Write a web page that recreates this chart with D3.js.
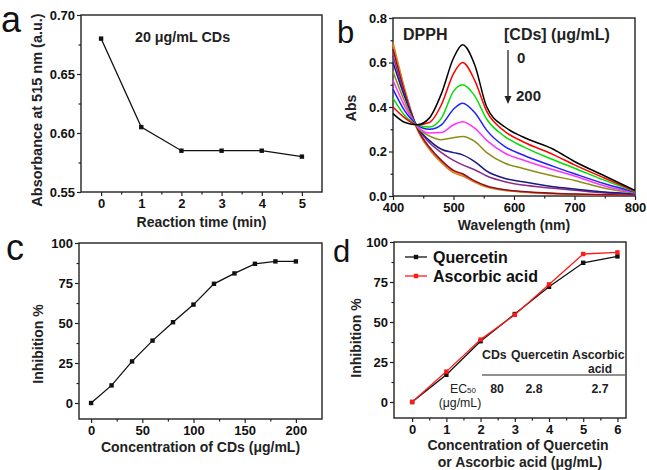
<!DOCTYPE html>
<html>
<head>
<meta charset="utf-8">
<script src="https://cdn.jsdelivr.net/npm/d3@7"></script>
<style>
  body { margin: 0; background: #fff; }
  svg text { font-family: "Liberation Sans", Arial, sans-serif; }
</style>
</head>
<body>
<div id="wrapper"></div>
<script>
// panel a: absorbance vs reaction time
const timeMin = [0, 1, 2, 3, 4, 5];
const abs515 = [0.68, 0.605, 0.585, 0.585, 0.585, 0.58];

// panel b: DPPH spectra, one row per CD concentration (0 -> 200 ug/mL)
const wavelengths = [400, 420, 440, 460, 480, 500, 515, 535, 555, 585, 615, 665, 700, 750, 800];
const spectra = [
  [0.37, 0.33, 0.32, 0.35, 0.46, 0.62, 0.68, 0.59, 0.40, 0.31, 0.265, 0.21, 0.155, 0.09, 0.025],
  [0.40, 0.35, 0.32, 0.33, 0.41, 0.55, 0.60, 0.52, 0.38, 0.29, 0.244, 0.186, 0.14, 0.08, 0.022],
  [0.44, 0.36, 0.32, 0.31, 0.35, 0.47, 0.50, 0.45, 0.345, 0.267, 0.222, 0.163, 0.125, 0.07, 0.02],
  [0.48, 0.38, 0.32, 0.30, 0.32, 0.39, 0.417, 0.375, 0.295, 0.222, 0.184, 0.133, 0.10, 0.055, 0.018],
  [0.52, 0.40, 0.315, 0.283, 0.285, 0.32, 0.334, 0.305, 0.25, 0.192, 0.162, 0.118, 0.09, 0.045, 0.016],
  [0.56, 0.42, 0.31, 0.27, 0.253, 0.262, 0.267, 0.245, 0.195, 0.147, 0.124, 0.09, 0.07, 0.035, 0.013],
  [0.60, 0.44, 0.31, 0.25, 0.21, 0.195, 0.185, 0.155, 0.112, 0.079, 0.064, 0.042, 0.032, 0.018, 0.01],
  [0.63, 0.45, 0.31, 0.24, 0.195, 0.16, 0.14, 0.118, 0.09, 0.064, 0.049, 0.035, 0.026, 0.014, 0.008],
  [0.66, 0.46, 0.305, 0.22, 0.16, 0.115, 0.10, 0.068, 0.045, 0.028, 0.02, 0.012, 0.009, 0.006, 0.005],
  [0.68, 0.47, 0.30, 0.215, 0.155, 0.11, 0.095, 0.065, 0.042, 0.026, 0.018, 0.011, 0.008, 0.005, 0.004],
  [0.69, 0.475, 0.30, 0.21, 0.15, 0.105, 0.09, 0.062, 0.04, 0.025, 0.017, 0.01, 0.007, 0.005, 0.004]
];
const spectraColors = ["#000000", "#ff0000", "#00e000", "#1f1fff", "#ff33ff", "#8c8c1a",
  "#1a1a80", "#8a2a8a", "#8b0f2a", "#ff8000", "#c08040"];

// panel c: inhibition vs CD concentration
const cdConc = [0, 20, 40, 60, 80, 100, 120, 140, 160, 180, 200];
const cdInhib = [0, 11, 26, 39, 50.5, 61.5, 74.5, 81, 87, 88.5, 88.5];

// panel d: reference antioxidants
const refConc = [0, 1, 2, 3, 4, 5, 6];
const quercetin = [0, 17, 38, 55, 72, 87, 91];
const ascorbic = [0, 19, 39, 54.5, 73.5, 92.5, 93.5];
const ec50Names = ["CDs", "Quercetin", "Ascorbic"];
const ec50Values = ["80", "2.8", "2.7"];

const svg = d3.select("#wrapper").append("svg")
  .attr("width", 647).attr("height", 470);

function panel(p) {
  const x = d3.scaleLinear().domain(p.xDomain).range([p.left, p.right]);
  const y = d3.scaleLinear().domain(p.yDomain).range([p.bottom, p.top]);
  const g = svg.append("g");

  // minor ticks
  g.append("g").attr("transform", `translate(0,${p.bottom})`)
    .call(d3.axisBottom(x).tickValues(p.xMinor).tickSize(2.5).tickFormat(""))
    .call(a => a.select(".domain").remove());
  g.append("g").attr("transform", `translate(${p.left},0)`)
    .call(d3.axisLeft(y).tickValues(p.yMinor).tickSize(2.5).tickFormat(""))
    .call(a => a.select(".domain").remove());

  // major ticks
  g.append("g").attr("transform", `translate(0,${p.bottom})`)
    .call(d3.axisBottom(x).tickValues(p.xTicks).tickSize(4).tickPadding(3).tickFormat(p.xFmt))
    .call(a => a.select(".domain").remove());
  g.append("g").attr("transform", `translate(${p.left},0)`)
    .call(d3.axisLeft(y).tickValues(p.yTicks).tickSize(4).tickPadding(2).tickFormat(p.yFmt))
    .call(a => a.select(".domain").remove());

  g.selectAll(".tick text")
    .style("font-size", "13px").style("font-weight", "bold").attr("fill", "#111");
  g.selectAll(".tick line").attr("stroke", "#222").attr("stroke-width", 1.2);

  g.append("rect")
    .attr("x", p.left).attr("y", p.top)
    .attr("width", p.right - p.left).attr("height", p.bottom - p.top)
    .attr("fill", "none").attr("stroke", "#222").attr("stroke-width", 1.4);

  g.append("text")
    .attr("x", (p.left + p.right) / 2 + (p.xlabDx || 0)).attr("y", p.xlabY)
    .attr("text-anchor", "middle")
    .style("font-size", "14px").style("font-weight", "bold").attr("fill", "#222")
    .text(p.xlab);

  g.append("text")
    .attr("transform", `translate(${p.ylabX},${p.ylabY}) rotate(-90)`)
    .attr("text-anchor", "middle")
    .style("font-size", p.ylabSize || "14px").style("font-weight", "bold").attr("fill", "#222")
    .text(p.ylab);

  g.append("text")
    .attr("x", p.letterX).attr("y", p.letterY)
    .style("font-size", p.letterSize).attr("fill", "#111")
    .text(p.letter);

  return { g, x, y };
}

function markLine(g, x, y, xs, ys, color) {
  const pts = xs.map((v, i) => [v, ys[i]]);
  g.append("path")
    .attr("d", d3.line().x(d => x(d[0])).y(d => y(d[1]))(pts))
    .attr("fill", "none").attr("stroke", color).attr("stroke-width", 1.3);
  g.selectAll(null).data(pts).join("rect")
    .attr("x", d => x(d[0]) - 2.2).attr("y", d => y(d[1]) - 2.2)
    .attr("width", 4.4).attr("height", 4.4).attr("fill", color);
}

// ---------- a ----------
const pa = panel({
  left: 81, right: 322, top: 15, bottom: 192,
  xDomain: [-0.5, 5.5], yDomain: [0.55, 0.70],
  xTicks: timeMin, xMinor: d3.range(0.5, 5, 1), xFmt: d3.format("d"),
  yTicks: [0.55, 0.60, 0.65, 0.70], yMinor: [0.575, 0.625, 0.675], yFmt: d3.format(".2f"),
  xlab: "Reaction time (min)", xlabY: 227,
  ylab: "Absorbance at 515 nm (a.u.)", ylabX: 42, ylabY: 110, ylabSize: "14.5px",
  letter: "a", letterX: 1, letterY: 32, letterSize: "36px"
});
markLine(pa.g, pa.x, pa.y, timeMin, abs515, "#111");
pa.g.append("text").attr("x", 135).attr("y", 42)
  .style("font-size", "14.3px").style("font-weight", "bold").attr("fill", "#222")
  .text("20 μg/mL CDs");

// ---------- b ----------
const pb = panel({
  left: 393, right: 635, top: 18, bottom: 196,
  xDomain: [400, 800], yDomain: [0, 0.8],
  xTicks: [400, 500, 600, 700, 800], xMinor: [450, 550, 650, 750], xFmt: d3.format("d"),
  yTicks: [0, 0.2, 0.4, 0.6, 0.8], yMinor: [0.1, 0.3, 0.5, 0.7], yFmt: d3.format(".1f"),
  xlab: "Wavelength (nm)", xlabY: 230,
  ylab: "Abs", ylabX: 356, ylabY: 108,
  letter: "b", letterX: 337, letterY: 43, letterSize: "31px"
});
const specLine = d3.line().curve(d3.curveMonotoneX)
  .x((d, i) => pb.x(wavelengths[i])).y(d => pb.y(d));
spectra.slice().reverse().forEach((s, k) => {
  const i = spectra.length - 1 - k;
  pb.g.append("path").attr("d", specLine(s))
    .attr("fill", "none").attr("stroke", spectraColors[i]).attr("stroke-width", 1.5);
});
pb.g.append("text").attr("x", 403).attr("y", 40)
  .style("font-size", "16px").style("font-weight", "bold").attr("fill", "#222").text("DPPH");
pb.g.append("text").attr("x", 504).attr("y", 40)
  .style("font-size", "16px").style("font-weight", "bold").attr("fill", "#222").text("[CDs] (μg/mL)");
pb.g.append("text").attr("x", 517).attr("y", 63)
  .style("font-size", "15px").style("font-weight", "bold").attr("fill", "#222").text("0");
pb.g.append("text").attr("x", 516).attr("y", 101)
  .style("font-size", "15px").style("font-weight", "bold").attr("fill", "#222").text("200");
pb.g.append("line").attr("x1", 508).attr("x2", 508).attr("y1", 50).attr("y2", 98)
  .attr("stroke", "#222").attr("stroke-width", 1.3);
pb.g.append("path").attr("d", "M504.5,96 L511.5,96 L508,104 Z").attr("fill", "#222");

// ---------- c ----------
const pc = panel({
  left: 79, right: 322, top: 243, bottom: 419,
  xDomain: [-11.8, 225.5], yDomain: [-10, 100],
  xTicks: [0, 50, 100, 150, 200], xMinor: [25, 75, 125, 175], xFmt: d3.format("d"),
  yTicks: [0, 25, 50, 75, 100], yMinor: [12.5, 37.5, 62.5, 87.5], yFmt: d3.format("d"),
  xlab: "Concentration of CDs (μg/mL)", xlabY: 452,
  ylab: "Inhibition %", ylabX: 43, ylabY: 344,
  letter: "c", letterX: 6, letterY: 260, letterSize: "36px"
});
markLine(pc.g, pc.x, pc.y, cdConc, cdInhib, "#111");

// ---------- d ----------
const pd = panel({
  left: 394, right: 626, top: 242, bottom: 418,
  xDomain: [-0.53, 6.25], yDomain: [-10, 100],
  xTicks: refConc, xMinor: d3.range(0.5, 6.5, 1), xFmt: d3.format("d"),
  yTicks: [0, 25, 50, 75, 100], yMinor: [12.5, 37.5, 62.5, 87.5], yFmt: d3.format("d"),
  xlab: "Concentration of Quercetin", xlabY: 450, xlabDx: 8,
  ylab: "Inhibition %", ylabX: 361, ylabY: 338,
  letter: "d", letterX: 333, letterY: 262, letterSize: "31px"
});
markLine(pd.g, pd.x, pd.y, refConc, quercetin, "#111");
markLine(pd.g, pd.x, pd.y, refConc, ascorbic, "#ff1a1a");
pd.g.append("text").attr("x", 520).attr("y", 467).attr("text-anchor", "middle")
  .style("font-size", "14px").style("font-weight", "bold").attr("fill", "#222")
  .text("or Ascorbic acid (μg/mL)");

// legend
[["Quercetin", "#111", 257], ["Ascorbic acid", "#ff1a1a", 276]].forEach(([name, c, ly]) => {
  pd.g.append("line").attr("x1", 405).attr("x2", 427).attr("y1", ly).attr("y2", ly)
    .attr("stroke", c).attr("stroke-width", 1.3);
  pd.g.append("rect").attr("x", 413.8).attr("y", ly - 2.2).attr("width", 4.4).attr("height", 4.4).attr("fill", c);
  pd.g.append("text").attr("x", 433).attr("y", ly + 5.5)
    .style("font-size", "16px").style("font-weight", "bold").attr("fill", "#111").text(name);
});

// EC50 table
const colX = [482, 511, 572];
ec50Names.forEach((n, i) => {
  pd.g.append("text").attr("x", colX[i]).attr("y", 359)
    .style("font-size", "12.3px").style("font-weight", "bold").attr("fill", "#222").text(n);
});
pd.g.append("text").attr("x", 600).attr("y", 373).attr("text-anchor", "middle")
  .style("font-size", "12px").style("font-weight", "bold").attr("fill", "#222").text("acid");
pd.g.append("line").attr("x1", 482).attr("x2", 625).attr("y1", 375).attr("y2", 375)
  .attr("stroke", "#222").attr("stroke-width", 1.2);
const valX = [497, 534, 600];
ec50Values.forEach((v, i) => {
  pd.g.append("text").attr("x", valX[i]).attr("y", 393).attr("text-anchor", "middle")
    .style("font-size", "12.3px").style("font-weight", "bold").attr("fill", "#222").text(v);
});
const ec = pd.g.append("text").attr("x", 463).attr("y", 393).attr("text-anchor", "middle")
  .style("font-size", "12.3px").attr("fill", "#222");
ec.append("tspan").text("EC");
ec.append("tspan").style("font-size", "8px").text("50");
pd.g.append("text").attr("x", 460).attr("y", 407).attr("text-anchor", "middle")
  .style("font-size", "12.3px").attr("fill", "#222").text("(μg/mL)");
</script>
</body>
</html>
